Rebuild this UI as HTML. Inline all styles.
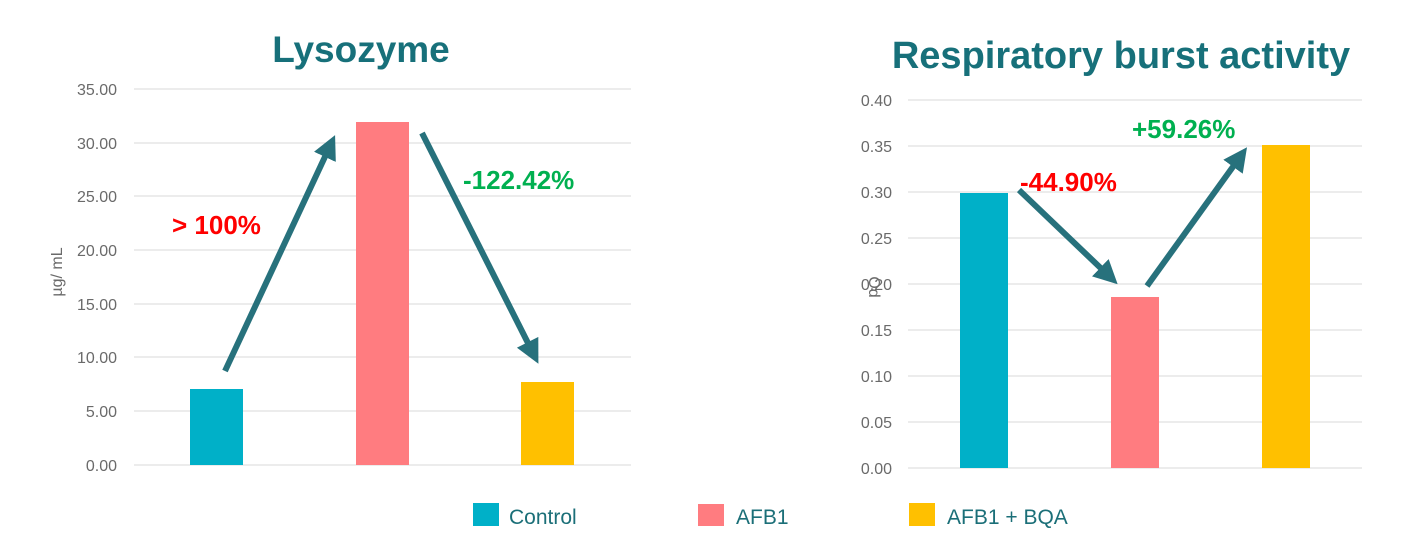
<!DOCTYPE html>
<html><head><meta charset="utf-8"><style>
html,body{margin:0;padding:0;background:#fff;}
svg{display:block;font-family:"Liberation Sans",sans-serif;}
.t{fill:#6a6a6a;font-size:16px;}
.ti{fill:#17707a;font-weight:bold;}
.g{stroke:#d9d9d9;stroke-width:1;}
.lg{fill:#1b6f78;font-size:21px;}
.p{font-size:26px;font-weight:bold;}
</style></head><body>
<svg width="1421" height="540" viewBox="0 0 1421 540">
<defs><marker id="ah" markerWidth="4" markerHeight="4" refX="2" refY="2" orient="auto" markerUnits="strokeWidth"><path d="M0,0 L4,2 L0,4 z" fill="#27717c"/></marker></defs>
<text class="ti" x="361" y="62" text-anchor="middle" font-size="37">Lysozyme</text>
<g class="g">
<line x1="134" x2="631" y1="89" y2="89"/><line x1="134" x2="631" y1="143" y2="143"/><line x1="134" x2="631" y1="196" y2="196"/><line x1="134" x2="631" y1="250" y2="250"/><line x1="134" x2="631" y1="304" y2="304"/><line x1="134" x2="631" y1="357" y2="357"/><line x1="134" x2="631" y1="411" y2="411"/><line x1="134" x2="631" y1="465" y2="465"/>
</g>
<g class="t" text-anchor="end">
<text x="117" y="95">35.00</text><text x="117" y="149">30.00</text><text x="117" y="202">25.00</text><text x="117" y="256">20.00</text><text x="117" y="310">15.00</text><text x="117" y="363">10.00</text><text x="117" y="417">5.00</text><text x="117" y="471">0.00</text>
</g>
<text class="t" transform="translate(62,272) rotate(-90)" text-anchor="middle">µg/ mL</text>
<rect x="190" y="389" width="53" height="76" fill="#00b0c8"/>
<rect x="356" y="122" width="53" height="343" fill="#ff7c80"/>
<rect x="521" y="382" width="53" height="83" fill="#ffc000"/>
<line x1="225" y1="371" x2="330" y2="146" stroke="#27717c" stroke-width="6" marker-end="url(#ah)"/>
<line x1="422" y1="133" x2="533" y2="353" stroke="#27717c" stroke-width="6" marker-end="url(#ah)"/>
<text class="p" x="172" y="234" fill="#ff0000">&gt; 100%</text>
<text class="p" x="463" y="189" fill="#00b050">-122.42%</text>

<text class="ti" x="1121" y="68" text-anchor="middle" font-size="38">Respiratory burst activity</text>
<g class="g">
<line x1="908" x2="1362" y1="100" y2="100"/><line x1="908" x2="1362" y1="146" y2="146"/><line x1="908" x2="1362" y1="192" y2="192"/><line x1="908" x2="1362" y1="238" y2="238"/><line x1="908" x2="1362" y1="284" y2="284"/><line x1="908" x2="1362" y1="330" y2="330"/><line x1="908" x2="1362" y1="376" y2="376"/><line x1="908" x2="1362" y1="422" y2="422"/><line x1="908" x2="1362" y1="468" y2="468"/>
</g>
<g class="t" text-anchor="end">
<text x="892" y="106">0.40</text><text x="892" y="152">0.35</text><text x="892" y="198">0.30</text><text x="892" y="244">0.25</text><text x="892" y="290">0.20</text><text x="892" y="336">0.15</text><text x="892" y="382">0.10</text><text x="892" y="428">0.05</text><text x="892" y="474">0.00</text>
</g>
<text class="t" transform="translate(869,287) rotate(90)" text-anchor="middle">Od</text>
<rect x="960" y="193" width="48" height="275" fill="#00b0c8"/>
<rect x="1111" y="297" width="48" height="171" fill="#ff7c80"/>
<rect x="1262" y="145" width="48" height="323" fill="#ffc000"/>
<line x1="1019" y1="190" x2="1109" y2="276" stroke="#27717c" stroke-width="6" marker-end="url(#ah)"/>
<line x1="1147" y1="286" x2="1240" y2="157" stroke="#27717c" stroke-width="6" marker-end="url(#ah)"/>
<text class="p" x="1020" y="191" fill="#ff0000">-44.90%</text>
<text class="p" x="1132" y="138" fill="#00b050">+59.26%</text>

<rect x="473" y="503" width="26" height="23" fill="#00b0c8"/>
<text class="lg" x="509" y="524">Control</text>
<rect x="698" y="504" width="26" height="22" fill="#ff7c80"/>
<text class="lg" x="736" y="524">AFB1</text>
<rect x="909" y="503" width="26" height="23" fill="#ffc000"/>
<text class="lg" x="947" y="524">AFB1 + BQA</text>
</svg>
</body></html>
